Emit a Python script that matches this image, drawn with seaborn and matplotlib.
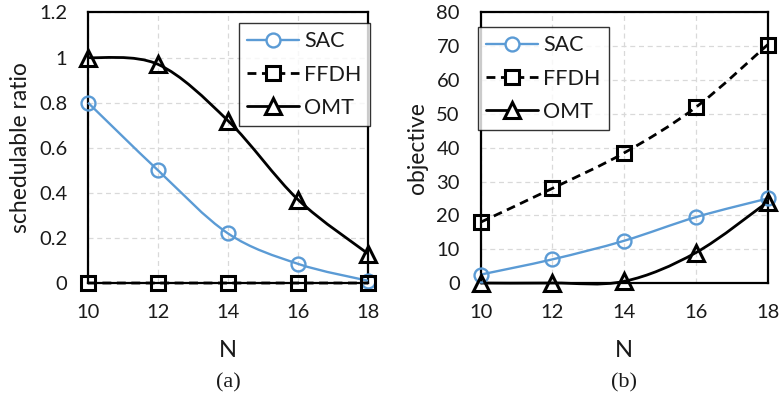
import matplotlib
matplotlib.use("Agg")
import matplotlib.pyplot as plt
import seaborn as sns
import numpy as np
from matplotlib.path import Path
from matplotlib.patches import PathPatch
from matplotlib.lines import Line2D

N = [10, 12, 14, 16, 18]

# (a) schedulable ratio
ratio_sac = [0.80, 0.50, 0.22, 0.085, 0.01]
ratio_ffdh = [0.0, 0.0, 0.0, 0.0, 0.0]
ratio_omt = [1.0, 0.97, 0.72, 0.37, 0.13]

# (b) objective
obj_sac = [2.5, 7.0, 12.5, 19.5, 25.0]
obj_ffdh = [18.0, 28.0, 38.5, 52.0, 70.5]
obj_omt = [0.0, 0.0, 0.5, 9.0, 24.0]

BLUE = "#5B9BD5"
TXT = "#1a1a1a"
sns.set_style("white")
plt.rcParams["font.family"] = ["Lato", "DejaVu Sans"]


def smooth_path(x, y):
    # Excel-style smoothed line as cubic bezier segments through the points
    x = np.asarray(x, float)
    y = np.asarray(y, float)
    n = len(x)
    verts = [(x[0], y[0])]
    codes = [Path.MOVETO]
    for i in range(n - 1):
        i0 = max(i - 1, 0)
        i3 = min(i + 2, n - 1)
        c1 = (x[i] + (x[i + 1] - x[i0]) / 6, y[i] + (y[i + 1] - y[i0]) / 6)
        c2 = (x[i + 1] - (x[i3] - x[i]) / 6, y[i + 1] - (y[i3] - y[i]) / 6)
        verts += [c1, c2, (x[i + 1], y[i + 1])]
        codes += [Path.CURVE4] * 3
    return Path(verts, codes)


series = [
    ("SAC", BLUE, "-", "o", 1.7),
    ("FFDH", "black", (0, (3.2, 2.0)), "s", 2.0),
    ("OMT", "black", "-", "^", 2.0),
]


def mstyle(mk, c):
    return dict(marker=mk, markersize=10 if mk != "^" else 11.5,
                markeredgecolor=c, markeredgewidth=2.2 if c == "black" else 1.7)


fig = plt.figure(figsize=(7.8, 3.98), dpi=100)
ax1 = fig.add_axes([0.1128, 0.2889, 0.359, 0.6797])
ax2 = fig.add_axes([0.6163, 0.2889, 0.368, 0.6797])


def draw(ax, ys, ylim, yticks, ylabels, ylabel, legend_loc, legend_anchor, caption):
    for (name, color, ls, mk, lw), y in zip(series, ys):
        ax.add_patch(PathPatch(smooth_path(N, y), facecolor="none", edgecolor=color,
                               lw=lw, linestyle=ls, zorder=3, clip_on=False))
        sns.lineplot(x=N, y=y, ax=ax, linestyle="", markerfacecolor="none",
                     zorder=4, clip_on=False, **mstyle(mk, color))
    ax.set_xlim(10, 18)
    ax.set_ylim(*ylim)
    ax.set_xticks(N)
    ax.set_xticklabels([str(v) for v in N], fontsize=14.5, color=TXT)
    ax.set_yticks(yticks)
    ax.set_yticklabels(ylabels, fontsize=14.5, color=TXT)
    ax.tick_params(axis="x", length=0, pad=15)
    ax.tick_params(axis="y", length=0, pad=15)
    ax.grid(True, color="#d9d9d9", linestyle=(0, (4, 3)), lw=0.9)
    for sp in ax.spines.values():
        sp.set_visible(True)
        sp.set_color("black")
        sp.set_linewidth(1.6)
        sp.set_zorder(2)
    ax.set_xlabel("N", fontsize=17, labelpad=14, color=TXT)
    ax.set_ylabel(ylabel, fontsize=16.5, labelpad=6, color=TXT)
    ax.text(0.5, -0.37, caption, transform=ax.transAxes, ha="center", va="center",
            fontsize=16, family="Liberation Serif", color=TXT)
    handles = [Line2D([], [], color=c, ls=ls, lw=lw, markerfacecolor="white", **mstyle(mk, c))
               for (name, c, ls, mk, lw) in series]
    leg = ax.legend(handles, [s[0] for s in series], loc=legend_loc, bbox_to_anchor=legend_anchor,
                    fontsize=15.5, frameon=True, fancybox=False, handlelength=2.4,
                    labelspacing=0.62, borderpad=0.38, handletextpad=0.25, borderaxespad=0,
                    labelcolor=TXT)
    leg.get_frame().set_edgecolor("black")
    leg.get_frame().set_linewidth(1.0)
    leg.set_zorder(5)


draw(ax1, [ratio_sac, ratio_ffdh, ratio_omt], (0, 1.2), [0, 0.2, 0.4, 0.6, 0.8, 1.0, 1.2],
     ["0", "0.2", "0.4", "0.6", "0.8", "1", "1.2"], "schedulable ratio",
     "upper right", (1.007, 0.961), "(a)")
draw(ax2, [obj_sac, obj_ffdh, obj_omt], (0, 80), list(range(0, 81, 10)),
     [str(v) for v in range(0, 81, 10)], "objective",
     "upper left", (-0.009, 0.946), "(b)")

fig.savefig("out.png", dpi=100)
